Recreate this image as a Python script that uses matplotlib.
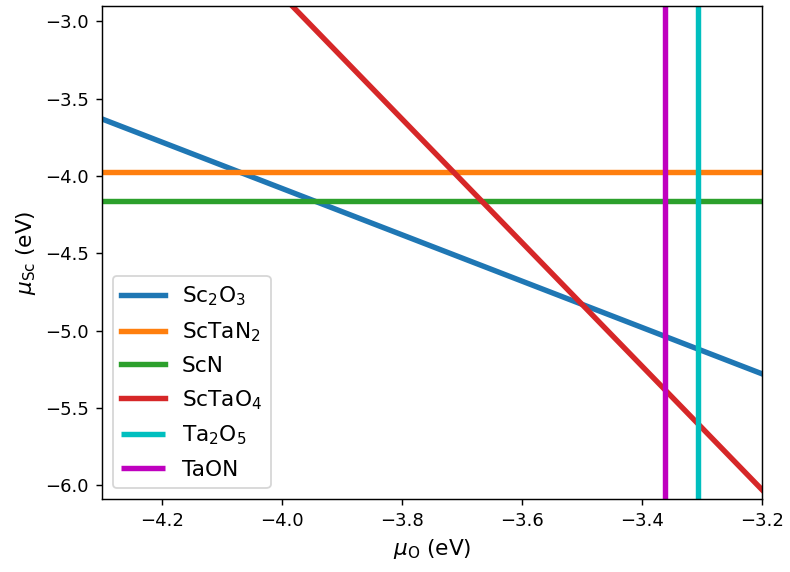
import numpy as np
import matplotlib

matplotlib.use("Agg")
import matplotlib.pyplot as plt  # noqa: E402

# chemical potential limits
mu_o = np.linspace(-4.3, -3.2, 50)

# sloped boundaries: mu_Sc = slope * mu_O + intercept
sloped_names = ["Sc$_2$O$_3$", "ScTaO$_4$"]
sloped_slopes = [-1.5, -4.0]
sloped_intercepts = [-10.08, -18.83]

# flat boundaries: mu_Sc = const
flat_names = ["ScTaN$_2$", "ScN"]
flat_values = [-3.974, -4.162]

# vertical boundaries: mu_O = const
vert_names = ["Ta$_2$O$_5$", "TaON"]
vert_values = [-3.307, -3.362]

fig = plt.figure(figsize=(790 / 130, 572 / 130), dpi=130)
ax = fig.add_axes([0.1287, 0.1276, 0.8359, 0.8619])

ax.plot(mu_o, sloped_slopes[0] * mu_o + sloped_intercepts[0], lw=3, color="tab:blue", label=sloped_names[0])
ax.axhline(flat_values[0], lw=3, color="tab:orange", label=flat_names[0])
ax.axhline(flat_values[1], lw=3, color="tab:green", label=flat_names[1])
ax.plot(mu_o, sloped_slopes[1] * mu_o + sloped_intercepts[1], lw=3, color="tab:red", label=sloped_names[1])

ylim = (-6.09, -2.9)
ax.vlines(vert_values[0], ylim[0], ylim[1], lw=3, color="c", label=vert_names[0])
ax.vlines(vert_values[1], ylim[0], ylim[1], lw=3, color="m", label=vert_names[1])

ax.set_xlim(-4.3, -3.2)
ax.set_ylim(*ylim)
ax.set_xlabel(r"$\mu_{\rm O}$ (eV)", fontsize=12)
ax.set_ylabel(r"$\mu_{\rm Sc}$ (eV)", fontsize=12)
ax.legend(loc="lower left", fontsize=12, labelspacing=0.56)

fig.savefig("out.png", dpi=130)
